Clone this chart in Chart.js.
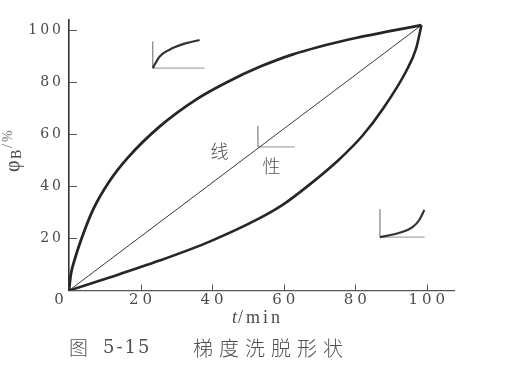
<!DOCTYPE html>
<html>
<head>
<meta charset="utf-8">
<script src="https://cdn.jsdelivr.net/npm/chart.js@4.4.0/dist/chart.umd.min.js"></script>
<style>
  body { margin: 0; background: #fff; }
  canvas { display: block; }
</style>
</head>
<body>
<canvas id="chart" width="516" height="378"></canvas>
<script>
// values (t in min, phi_B in %)
var tUpper = [0, 0.5, 1.5, 3, 6.7, 11.3, 16.4, 25.3, 35.6, 44, 53.3, 62.6, 78.5, 90, 98.5];
var vUpper = [0, 6, 11.5, 18, 31, 42, 51, 63, 73.5, 80, 86, 90.8, 96.6, 99.8, 102];

var tLinear = [0, 98.5];
var vLinear = [0, 102];

var tLower = [0, 11.3, 25.3, 39.3, 53.3, 59.8, 67.3, 75.2, 82, 87.8, 94.3, 97, 98.5];
var vLower = [0, 5, 11.5, 18.8, 27.8, 33, 40.8, 50, 59.5, 70, 84.5, 93, 102];

// little shape sketches inside the plot
var tConvexIcon = [23.4, 25.3, 29, 32.8, 36.5];
var vConvexIcon = [85.5, 89.9, 93.2, 95.1, 96.3];
var tConcaveIcon = [86.9, 92.4, 96.1, 97.9, 99.3];
var vConcaveIcon = [20.5, 22.2, 24.5, 27.1, 31];
var iconCorners = [[23.4, 85.5, 95.7, 37.9], [52.8, 55.2, 63.3, 63.1], [86.9, 20.5, 31.2, 99.4]];

var xTicks = [0, 20, 40, 60, 80, 100];
var yTicks = [0, 20, 40, 60, 80, 100];

function pts(ts, vs) {
    var out = [];
    for (var i = 0; i < ts.length; i++) {
        out.push({x: ts[i], y: vs[i]});
    }
    return out;
}

function line(data, color, width) {
    return {
        data: data,
        borderColor: color,
        borderWidth: width,
        pointRadius: 0,
        fill: false,
        cubicInterpolationMode: "monotone"
    };
}

var datasets = [
    line(pts(tUpper, vUpper), "#262626", 2.8),
    line(pts(tLinear, vLinear), "#3a3a3a", 1),
    line(pts(tLower, vLower), "#262626", 2.6),
    line(pts(tConvexIcon, vConvexIcon), "#333", 2.2),
    line(pts(tConcaveIcon, vConcaveIcon), "#333", 2.2)
];
for (var k = 0; k < iconCorners.length; k++) {
    var c = iconCorners[k];
    datasets.push(line([{x: c[0], y: c[2]}, {x: c[0], y: c[1]}], "#8a8a8a", 1.3));
    datasets.push(line([{x: c[0], y: c[1]}, {x: c[3], y: c[1]}], "#a8a8a8", 1.3));
}

function spacedText(ctx, text, x, y, spacing, align) {
    ctx.letterSpacing = "0px";
    var w = ctx.measureText(text).width + spacing * (text.length - 1);
    var sx = x;
    if (align === "right") sx = x - w;
    if (align === "center") sx = x - w / 2;
    ctx.letterSpacing = spacing + "px";
    ctx.textAlign = "left";
    ctx.fillText(text, sx, y);
    ctx.letterSpacing = "0px";
}

var decor = {
    id: "decor",
    afterDraw: function(chart) {
        var ctx = chart.ctx;
        var xs = chart.scales.x, ys = chart.scales.y;
        var area = chart.chartArea;
        ctx.save();

        // inward tick marks
        ctx.strokeStyle = "#555";
        ctx.lineWidth = 1;
        ctx.beginPath();
        yTicks.forEach(function(v) {
            if (v === 0) return;
            var py = Math.round(ys.getPixelForValue(v)) + 0.5;
            ctx.moveTo(area.left, py);
            ctx.lineTo(area.left + 8, py);
        });
        xTicks.forEach(function(v) {
            if (v === 0) return;
            var px = Math.round(xs.getPixelForValue(v)) + 0.5;
            ctx.moveTo(px, area.bottom);
            ctx.lineTo(px, area.bottom - 6);
        });
        ctx.stroke();

        // tick labels
        ctx.fillStyle = "#4a4a4a";
        ctx.textBaseline = "middle";
        ctx.font = '14px "DejaVu Serif"';
        yTicks.forEach(function(v) {
            if (v === 0) return;
            spacedText(ctx, String(v), area.left - 8, ys.getPixelForValue(v), 3, "right");
        });
        ctx.font = '15px "DejaVu Serif"';
        xTicks.forEach(function(v) {
            if (v === 0) return;
            spacedText(ctx, String(v), xs.getPixelForValue(v), area.bottom + 10, 4, "center");
        });
        spacedText(ctx, "0", area.left - 10, area.bottom + 10, 0, "center");

        // x title
        ctx.textBaseline = "alphabetic";
        ctx.font = 'italic 18px "Liberation Serif"';
        ctx.fillText("t", 232, 323);
        ctx.font = '18px "Liberation Serif"';
        spacedText(ctx, "/min", 238, 323, 3, "left");

        // y title, rotated
        ctx.save();
        ctx.translate(14, 172);
        ctx.rotate(-Math.PI / 2);
        ctx.textBaseline = "middle";
        ctx.textAlign = "left";
        ctx.font = '20px "Liberation Serif"';
        ctx.fillText("\u03c6", 0, 0);
        ctx.font = '14px "Liberation Serif"';
        ctx.fillText("B", 13, 3);
        ctx.fillStyle = "#7a7a7a";
        ctx.font = '14px "Liberation Serif"';
        spacedText(ctx, "/%", 24, -6, 2, "left");
        ctx.restore();

        // labels by the straight line
        ctx.fillStyle = "#505050";
        ctx.textBaseline = "middle";
        ctx.font = '300 18px "Noto Sans CJK SC"';
        ctx.textAlign = "center";
        ctx.fillText("\u7ebf", 219.5, 151);
        ctx.fillText("\u6027", 271.5, 166.5);

        // caption
        ctx.font = '300 19px "Noto Sans CJK SC"';
        ctx.textAlign = "left";
        ctx.fillText("\u56fe", 69, 348);
        ctx.font = '18px "DejaVu Serif"';
        spacedText(ctx, "5-15", 103, 348, 2, "left");
        ctx.font = '300 20px "Noto Sans CJK SC"';
        spacedText(ctx, "\u68af\u5ea6\u6d17\u8131\u5f62\u72b6", 193, 348, 6, "left");

        ctx.restore();
    }
};

var ctx0 = document.getElementById("chart");
var myChart = new Chart(ctx0, {
    type: "line",
    data: { datasets: datasets },
    options: {
        responsive: false,
        animation: false,
        layout: { padding: { top: 20, right: 62, left: 0, bottom: 0 } },
        plugins: { legend: { display: false }, tooltip: { enabled: false } },
        scales: {
            x: {
                type: "linear",
                min: 0,
                max: 107.6,
                grid: { display: false, drawTicks: false },
                border: { display: true, color: "#555", width: 1.3 },
                ticks: { display: false, stepSize: 20, includeBounds: false },
                afterFit: function(scale) { scale.height = 87.5; }
            },
            y: {
                min: 0,
                max: 104,
                grid: { display: false, drawTicks: false },
                border: { display: true, color: "#333", width: 1.6 },
                ticks: { display: false, stepSize: 20, includeBounds: false },
                afterFit: function(scale) { scale.width = 69; }
            }
        }
    },
    plugins: [decor]
});
</script>
</body>
</html>
